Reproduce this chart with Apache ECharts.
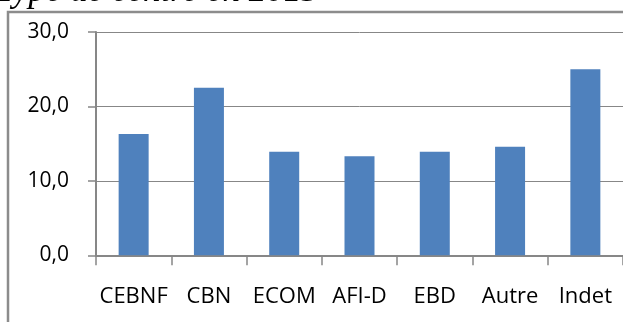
<!DOCTYPE html>
<html>
<head>
<meta charset="utf-8">
<script src="https://cdn.jsdelivr.net/npm/echarts@6/dist/echarts.min.js"></script>
<style>
html,body{margin:0;padding:0;background:#fff;}
#chart{width:623px;height:322px;}
</style>
</head>
<body>
<div id="chart"></div>
<script>
const titleText = "Type de centre en 2013";
const categories = ["CEBNF", "CBN", "ECOM", "AFI-D", "EBD", "Autre", "Indet"];
const values = [16.3, 22.5, 13.9, 13.3, 13.9, 14.6, 25.0];
const yTicks = [0, 10, 20, 30];

const chart = echarts.init(document.getElementById('chart'), null, {renderer: 'canvas'});
const gray = '#878787';
chart.setOption({
  animation: false,
  backgroundColor: '#fff',
  graphic: [
    {
      type: 'rect',
      shape: {x: 8, y: 12, width: 700, height: 400},
      style: {fill: 'none', stroke: '#8c8c8c', lineWidth: 2.5},
      z: 0
    },
    {
      type: 'text',
      x: -4, y: -8,
      style: {
        text: titleText,
        font: 'italic 35px "Liberation Serif"',
        fill: '#000',
        align: 'left',
        verticalAlign: 'middle'
      }
    }
  ],
  grid: {left: 96, top: 32, width: 533, height: 223.3, containLabel: false},
  xAxis: {
    type: 'category',
    data: categories,
    axisLine: {show: true, lineStyle: {color: gray, width: 2}},
    axisTick: {show: true, length: 10, lineStyle: {color: gray, width: 1.5}, alignWithLabel: false},
    axisLabel: {
      color: '#000', fontFamily: '"Open Sans"', fontSize: 22, margin: 30,
      interval: 0
    },
    splitLine: {show: false}
  },
  yAxis: {
    type: 'value',
    min: yTicks[0], max: yTicks[yTicks.length - 1], interval: 10,
    axisLine: {show: true, lineStyle: {color: gray, width: 2}},
    axisTick: {show: true, length: 8, lineStyle: {color: gray, width: 1.5}},
    axisLabel: {
      color: '#000', fontFamily: '"Open Sans"', fontSize: 21, margin: 27,
      formatter: v => v.toFixed(1).replace('.', ',')
    },
    splitLine: {show: true, lineStyle: {color: gray, width: 1}}
  },
  series: [{
    type: 'bar',
    data: values,
    barWidth: 30,
    itemStyle: {color: '#4f81bd'}
  }]
});
</script>
</body>
</html>
